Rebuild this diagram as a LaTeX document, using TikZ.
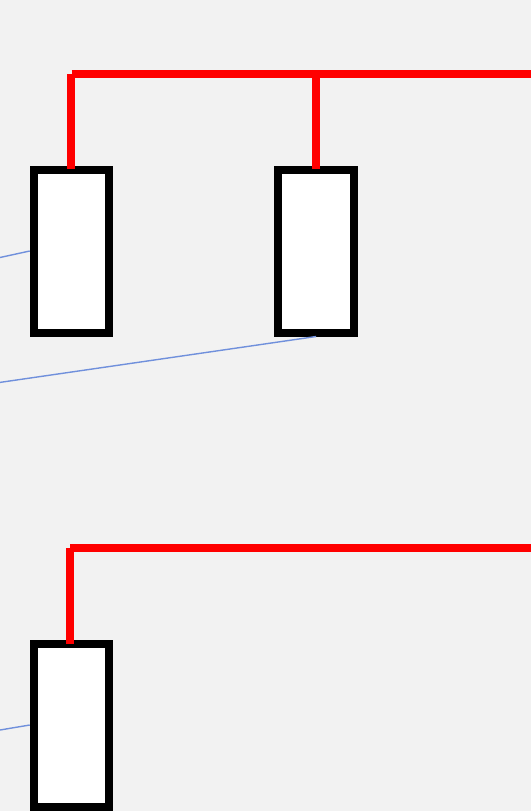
\documentclass[tikz,border=0pt]{standalone}
\usepackage{tikz}
\definecolor{pagebg}{HTML}{F2F2F2}
\definecolor{wireblue}{HTML}{7090DC}
\definecolor{busred}{HTML}{FF0000}
\tikzset{
  slot/.style={draw=black,fill=white,line width=8pt,rectangle,inner sep=0pt,minimum width=75.7pt,minimum height=163pt},
  bus/.style={draw=busred,line width=8pt,line cap=butt},
  wire/.style={draw=wireblue,line width=1.4pt}
}
\begin{document}
\begin{tikzpicture}[x=1pt,y=-1pt]
\useasboundingbox[fill=pagebg] (0,0) rectangle (531,811);
\node[slot] (b1) at (71.6,251) {};
\node[slot] (b2) at (316.1,251) {};
\node[slot] (b3) at (71.6,725) {};
\coordinate (w1) at (0,257.5);
\coordinate (w2) at (0,382.4);
\coordinate (w3) at (0,730);
\draw[wire] (w1) -- (b1.west);
\draw[wire] (w2) -- (b2.south);
\draw[wire] (w3) -- (b3.west);
\coordinate (t1) at (71.6,73.7);
\coordinate (e1) at (531,73.7);
\coordinate (t3) at (70.2,548.3);
\coordinate (e3) at (531,548.3);
\draw[bus] (t1) -- (e1);
\draw[bus] (71.3,74) -- ([yshift=-3.5pt,xshift=-0.3pt]b1.north);
\draw[bus] (b2.north |- t1) -- ([yshift=-3.5pt]b2.north);
\draw[bus] (t3) -- (e3);
\draw[bus] (70,548.3) -- ([yshift=-4.5pt,xshift=-1.6pt]b3.north);
\end{tikzpicture}
\end{document}
